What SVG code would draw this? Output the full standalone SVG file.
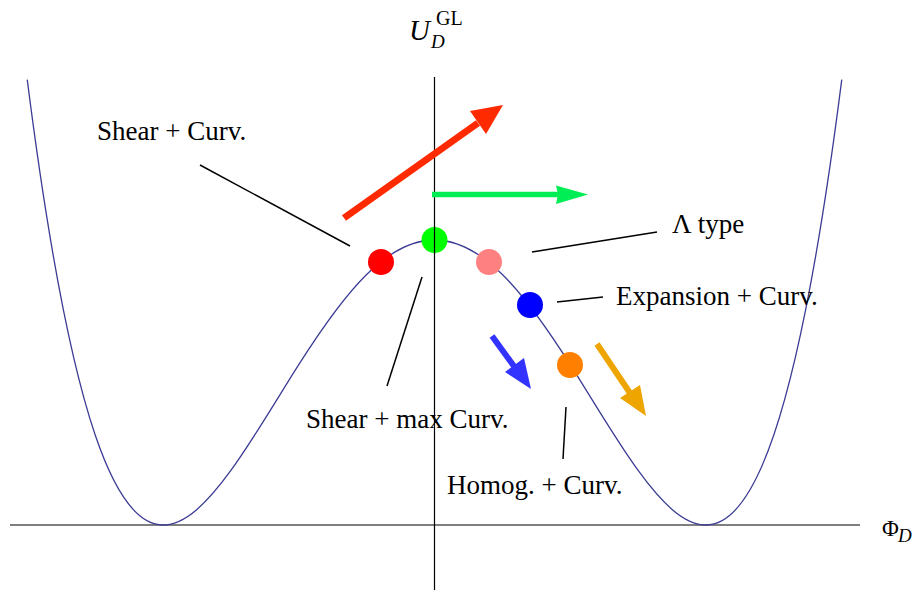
<svg xmlns="http://www.w3.org/2000/svg" width="915" height="590" viewBox="0 0 915 590">
<style>
.t{font-family:"Liberation Serif","Times New Roman",serif;font-size:27px;fill:#000}
.ti{font-family:"Liberation Serif","Times New Roman",serif;font-style:italic;fill:#000}
.ax{stroke:#000;stroke-width:1.2;fill:none}
.ld{stroke:#000;stroke-width:1.5;fill:none}
</style>
<rect width="915" height="590" fill="#fff"/>
<g id="axes">
<line class="ax" x1="434.5" y1="77" x2="434.5" y2="590"/>
<line class="ax" x1="10" y1="525" x2="860" y2="525"/>
<text class="ti" x="409" y="40" font-size="29">U</text>
<text class="ti" x="431" y="48" font-size="19">D</text>
<text x="436" y="25" font-family="Liberation Serif,serif" font-size="20">GL</text>
<text x="882" y="536" font-family="Liberation Serif,serif" font-size="23">Φ</text>
<text class="ti" x="898" y="542" font-size="19">D</text>
</g>
<g id="curve">
<path id="potential" fill="none" stroke="#3c3c96" stroke-width="1.3" d="M27.25,79.69 C49.875,257.82 72.5,368.02 95.125,434.82 C117.75,501.62 140.375,525 163,525 C185.625,525 208.25,501.62 230.875,470.45 C253.5,439.28 276.125,400.31 298.75,364.69 C321.375,329.07 344,296.78 366.625,274.51 C389.25,252.24 411.875,240 434.5,240 C457.125,240 479.75,252.24 502.375,274.51 C525,296.78 547.625,329.07 570.25,364.69 C592.875,400.31 615.5,439.28 638.125,470.45 C660.75,501.62 683.375,525 706,525 C728.625,525 751.25,501.62 773.875,434.82 C796.5,368.02 819.125,257.82 841.75,79.69"/>
</g>
<g id="connectors">
<line class="ld" x1="200" y1="165" x2="350" y2="246"/>
<line class="ld" x1="387" y1="386" x2="422" y2="277"/>
<line class="ld" x1="532" y1="252" x2="657" y2="232"/>
<line class="ld" x1="557" y1="302" x2="603" y2="297"/>
<line class="ld" x1="566" y1="407" x2="563" y2="459"/>
</g>
<g id="arrows">
<g id="arrow-red">
<line x1="344" y1="218" x2="478" y2="123" stroke="#ff2a00" stroke-width="7"/>
<polygon points="503,105 470,111 486,134" fill="#ff2a00"/>
</g>
<g id="arrow-green">
<line x1="432" y1="194.5" x2="562" y2="194.5" stroke="#00ee55" stroke-width="5.5"/>
<polygon points="588,194.5 556,185.5 558,194.5 556,204" fill="#00ee55"/>
</g>
<g id="arrow-blue">
<line x1="492" y1="336" x2="516" y2="369" stroke="#3333ff" stroke-width="6"/>
<polygon points="531,389 505,372 524,358" fill="#3333ff"/>
</g>
<g id="arrow-orange">
<line x1="597" y1="344" x2="632" y2="396" stroke="#eea500" stroke-width="6"/>
<polygon points="646,416 620,398 640,385" fill="#eea500"/>
</g>
</g>
<g id="dots">
<circle id="dot-red" cx="381" cy="262" r="13" fill="#ff0000"/>
<circle id="dot-green" cx="434.5" cy="240" r="13" fill="#00ff00"/>
<circle id="dot-pink" cx="489" cy="262" r="13" fill="#ff8080"/>
<circle id="dot-blue" cx="530" cy="305" r="13" fill="#0000ff"/>
<circle id="dot-orange" cx="570" cy="365" r="13" fill="#ff8000"/>
</g>
<line class="ax" x1="434.5" y1="226" x2="434.5" y2="254"/>
<g id="labels">
<text class="t" x="97" y="140">Shear + Curv.</text>
<text class="t" x="672" y="233">Λ type</text>
<text class="t" x="616" y="305">Expansion + Curv.</text>
<text class="t" x="306" y="428">Shear + max Curv.</text>
<text class="t" x="447" y="494">Homog. + Curv.</text>
</g>
</svg>
